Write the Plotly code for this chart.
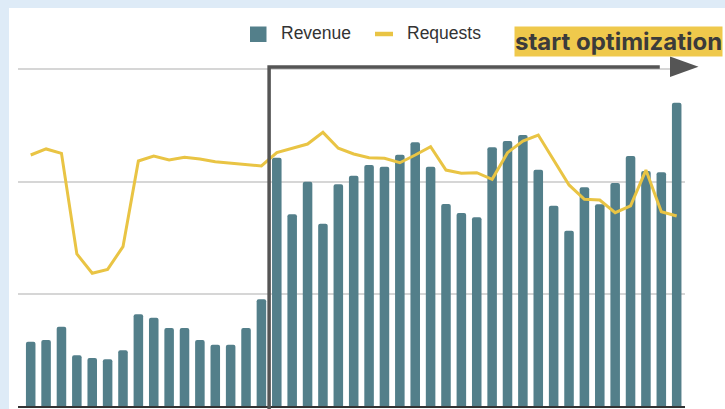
import plotly.graph_objects as go

# ---- data (units: gridline steps) ----
days = list(range(1, 44))
revenue = [0.573, 0.588, 0.707, 0.452, 0.428, 0.416, 0.496, 0.817, 0.787, 0.695,
           0.695, 0.588, 0.546, 0.546, 0.695, 0.951, 2.213, 1.708, 1.999, 1.625,
           1.976, 2.053, 2.148, 2.133, 2.240, 2.350, 2.133, 1.800, 1.720, 1.682,
           2.306, 2.362, 2.415, 2.106, 1.785, 1.562, 1.949, 1.798, 1.988, 2.228,
           2.094, 2.083, 2.703]
requests = [2.237, 2.291, 2.252, 1.355, 1.183, 1.218, 1.420, 2.184, 2.228, 2.193,
            2.217, 2.201, 2.177, 2.163, 2.154, 2.139, 2.258, 2.297, 2.335, 2.439,
            2.297, 2.246, 2.213, 2.208, 2.168, 2.237, 2.311, 2.103, 2.074, 2.079,
            2.020, 2.258, 2.362, 2.415, 2.193, 1.970, 1.842, 1.836, 1.723, 1.783,
            2.103, 1.732, 1.693]
optimization_start = 16.5
series_names = ["Revenue", "Requests"]
annotation_text = "start optimization"

# ---- style ----
W, H = 725, 409
ML, MR, MT, MB = 18, 40, 58, 3
BAR = "#537f8a"
LINE = "#e9c444"
YEL = "#efc94c"
DARK = "#555555"
BG = "#deebf7"

PW = W - ML - MR
PH = H - MT - MB
YMAX = PH / 112.2


def px_x(px):
    return (px - ML) / PW


def px_y(py):
    return (H - py - MB) / PH


fig = go.Figure()
fig.add_trace(go.Bar(x=days, y=revenue, name=series_names[0], marker_color=BAR,
                     marker_line_width=0, marker_cornerradius=2, width=0.62,
                     showlegend=False))
fig.add_trace(go.Scatter(x=days, y=requests, name=series_names[1], mode="lines",
                         line=dict(color=LINE, width=3), yaxis="y2",
                         showlegend=False))

shapes = []
# blue frame strips (top and left)
shapes.append(dict(type="rect", xref="paper", yref="paper", layer="below",
                   x0=px_x(-5), x1=px_x(740), y0=px_y(8), y1=px_y(-5),
                   fillcolor=BG, line_width=0))
shapes.append(dict(type="rect", xref="paper", yref="paper", layer="below",
                   x0=px_x(-5), x1=px_x(9), y0=px_y(430), y1=px_y(8),
                   fillcolor=BG, line_width=0))
# vertical marker + shaft
shapes.append(dict(type="path", xref="x", yref="paper", layer="above",
                   path=f"M {optimization_start},{px_y(412)} L {optimization_start},{px_y(67)} L 41.9,{px_y(67)}",
                   line=dict(color=DARK, width=3.5)))
# arrow head
shapes.append(dict(type="path", xref="paper", yref="paper", layer="above",
                   path=f"M {px_x(670)},{px_y(56.5)} L {px_x(698.5)},{px_y(66.8)} L {px_x(670)},{px_y(77)} Z",
                   fillcolor=DARK, line_width=0))
# legend swatches
shapes.append(dict(type="rect", xref="paper", yref="paper",
                   x0=px_x(250), x1=px_x(266.5), y0=px_y(42), y1=px_y(26.5),
                   fillcolor=BAR, line_width=0))
shapes.append(dict(type="line", xref="paper", yref="paper",
                   x0=px_x(375), x1=px_x(393), y0=px_y(34), y1=px_y(34),
                   line=dict(color=LINE, width=4.5)))

annotations = [
    dict(text=series_names[0], xref="paper", yref="paper", x=px_x(279), y=px_y(33.5),
         xanchor="left", yanchor="middle", showarrow=False,
         font=dict(family="Liberation Sans", size=17.5, color="#333333")),
    dict(text=series_names[1], xref="paper", yref="paper", x=px_x(404.5), y=px_y(33.5),
         xanchor="left", yanchor="middle", showarrow=False,
         font=dict(family="Liberation Sans", size=17.5, color="#333333")),
    dict(text="<b>" + annotation_text + "</b>", xref="paper", yref="paper",
         x=px_x(618.5), y=px_y(41.5), xanchor="center", yanchor="middle",
         showarrow=False, bgcolor=YEL, borderpad=0,
         font=dict(family="Inter", size=24, color="#3b3b3b")),
]

yr = [0, YMAX]
fig.update_layout(
    width=W, height=H,
    margin=dict(l=ML, r=MR, t=MT, b=MB),
    paper_bgcolor="white", plot_bgcolor="rgba(0,0,0,0)",
    xaxis=dict(range=[0.174, 43.54], showticklabels=False, ticks="", showgrid=False,
               zeroline=False, showline=True, linecolor="#333333", linewidth=2),
    yaxis=dict(range=yr, dtick=1, showticklabels=False, ticks="", showgrid=True,
               gridcolor="#d6d6d6", gridwidth=1.5, zeroline=False),
    yaxis2=dict(range=yr, overlaying="y", showticklabels=False, showgrid=False,
                zeroline=False, ticks=""),
    bargap=0.38,
    shapes=shapes,
    annotations=annotations,
    showlegend=False,
)

fig.write_html("out.html", config={"displayModeBar": False},
               post_script="document.body.style.margin='0px';document.body.style.overflow='hidden';")
